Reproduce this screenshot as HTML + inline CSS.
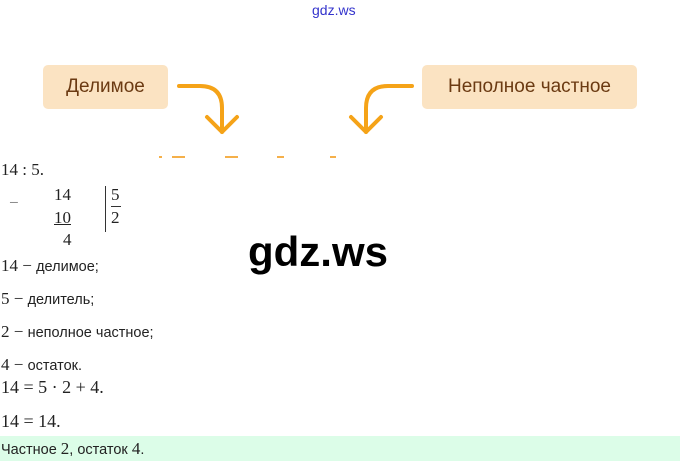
<!DOCTYPE html>
<html><head><meta charset="utf-8"><style>
body{margin:0;width:680px;height:461px;background:#fff;position:relative;overflow:hidden;font-family:"Liberation Sans",sans-serif}
.a{position:absolute;white-space:nowrap}
.m{font-family:"Liberation Serif",serif;font-size:17px;color:#222}
.t{font-size:14.5px;color:#222}
.box{position:absolute;background:#fbe3c2;border-radius:5px;color:#6b3a12;font-size:19px;display:flex;align-items:center;justify-content:center}
</style></head><body>
<div class="a" style="left:312px;top:2px;font-size:14px;color:#3333cc">gdz.ws</div>
<div class="box" style="left:43px;top:65px;width:125px;height:44px">Делимое</div>
<div class="box" style="left:422px;top:65px;width:215px;height:44px">Неполное частное</div>
<svg class="a" style="left:0;top:0" width="680" height="170">
<g fill="none" stroke="#f5a318" stroke-width="4" stroke-linecap="round" stroke-linejoin="round">
<path d="M179 86 H200 Q222 86 222 108 V132"/>
<path d="M207 117 L222 132 L237 117"/>
<path d="M412 86 H388 Q366 86 366 108 V132"/>
<path d="M351 117 L366 132 L381 117"/>
</g>
<g stroke="#f5b04a" stroke-width="2">
<line x1="159" y1="157" x2="162" y2="157"/><line x1="172" y1="157" x2="185" y2="157"/>
<line x1="225" y1="157" x2="238" y2="157"/><line x1="277" y1="157" x2="284" y2="157"/>
<line x1="330" y1="157" x2="336" y2="157"/></g>
</svg>
<div class="a m" style="left:1px;top:160px">14 : 5.</div>
<div class="a m" style="left:9px;top:193px;color:#777">−</div>
<div class="a m" style="left:54px;top:185px">14</div>
<div class="a m" style="left:54px;top:208px;text-decoration:underline">10</div>
<div class="a m" style="left:63px;top:230px">4</div>
<div class="a" style="left:105px;top:186px;width:1px;height:46px;background:#333"></div>
<div class="a m" style="left:111px;top:185px">5</div>
<div class="a" style="left:111px;top:206px;width:10px;height:1px;background:#333"></div>
<div class="a m" style="left:111px;top:208px">2</div>
<div class="a" style="left:248px;top:228px;font-size:42px;font-weight:bold;color:#000">gdz.ws</div>
<div class="a" style="left:1px;top:256px"><span class="m">14 − </span><span class="t">делимое;</span></div>
<div class="a" style="left:1px;top:289px"><span class="m">5 − </span><span class="t">делитель;</span></div>
<div class="a" style="left:1px;top:322px"><span class="m">2 − </span><span class="t">неполное частное;</span></div>
<div class="a" style="left:1px;top:355px"><span class="m">4 − </span><span class="t">остаток.</span></div>
<div class="a m" style="left:1px;top:377px;font-size:18px">14 = 5 · 2 + 4.</div>
<div class="a m" style="left:1px;top:411px;font-size:18px">14 = 14.</div>
<div class="a" style="left:0;top:436px;width:680px;height:25px;background:#dcfde8"></div>
<div class="a" style="left:1px;top:439px"><span class="t">Частное </span><span class="m">2</span><span class="t">, остаток </span><span class="m">4</span><span class="t">.</span></div>
</body></html>
